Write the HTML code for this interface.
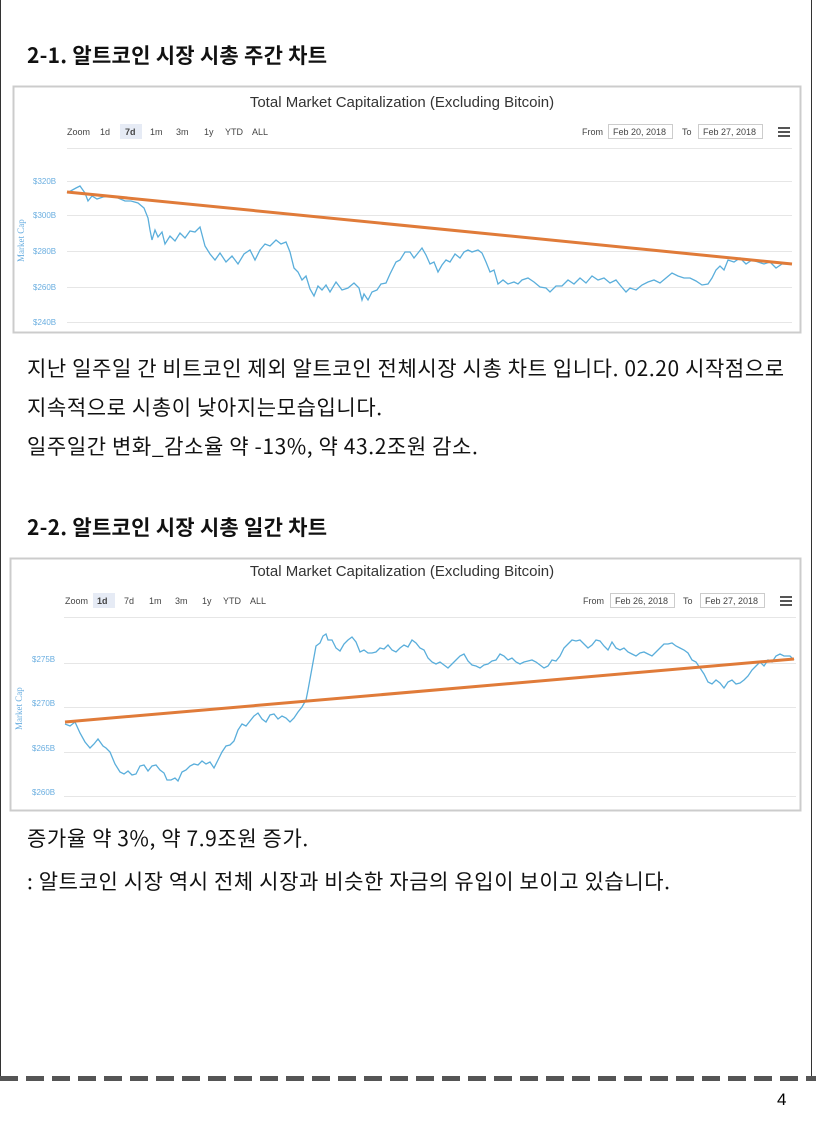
<!DOCTYPE html>
<html><head><meta charset="utf-8"><style>
body{margin:0;width:816px;height:1128px;position:relative;background:#fff;font-family:"Noto Sans CJK KR","Liberation Sans",sans-serif;overflow:hidden}
.h{position:absolute;left:27px;font-size:21px;font-weight:bold;color:#111;line-height:24px;white-space:nowrap;letter-spacing:0.25px}
.t{position:absolute;left:27px;font-size:21px;color:#111;line-height:24px;white-space:nowrap;letter-spacing:0.6px}
</style></head><body>
<div style="position:absolute;left:0;top:0;width:1px;height:1080px;background:#333"></div>
<div style="position:absolute;left:811px;top:0;width:1px;height:1080px;background:#333"></div>
<div style="position:absolute;left:0;top:1076px;width:816px;height:5px;background:repeating-linear-gradient(90deg,#555 0 18px,transparent 18px 26px)"></div>
<div style="position:absolute;left:777px;top:1090px;font-size:17px;font-family:'Liberation Sans',sans-serif">4</div>
<div class="h" style="top:43px">2-1. 알트코인 시장 시총 주간 차트</div>
<div class="t" style="top:356px">지난 일주일 간 비트코인 제외 알트코인 전체시장 시총 차트 입니다. 02.20 시작점으로</div>
<div class="t" style="top:395px">지속적으로 시총이 낮아지는모습입니다.</div>
<div class="t" style="top:434px">일주일간 변화_감소율 약 -13%, 약 43.2조원 감소.</div>
<div class="h" style="top:515px">2-2. 알트코인 시장 시총 일간 차트</div>
<div class="t" style="top:826px">증가율 약 3%, 약 7.9조원 증가.</div>
<div class="t" style="top:869px">: 알트코인 시장 역시 전체 시장과 비슷한 자금의 유입이 보이고 있습니다.</div>

<svg style="position:absolute;left:0;top:0" width="816" height="1128" font-family="Liberation Sans,sans-serif">
<rect x="13.5" y="86.5" width="787" height="246" fill="#fff" stroke="#ccc" stroke-width="2"/>
<text x="402" y="107" font-size="15" fill="#333" text-anchor="middle">Total Market Capitalization (Excluding Bitcoin)</text>
<g font-size="9" fill="#444"><text x="67" y="135">Zoom</text>
<rect x="120" y="124" width="22" height="15" fill="#e6ebf5"/>
<text x="100" y="135">1d</text><text x="125" y="135" font-weight="bold">7d</text><text x="150" y="135">1m</text><text x="176" y="135">3m</text><text x="204" y="135">1y</text><text x="225" y="135">YTD</text><text x="252" y="135">ALL</text>
<text x="582" y="135">From</text><rect x="608.5" y="124.5" width="64" height="14" fill="none" stroke="#ccc"/><text x="613" y="135">Feb 20, 2018</text>
<text x="682" y="135">To</text><rect x="698.5" y="124.5" width="64" height="14" fill="none" stroke="#ccc"/><text x="703" y="135">Feb 27, 2018</text></g>
<g stroke="#555" stroke-width="2"><line x1="778" y1="128" x2="790" y2="128"/><line x1="778" y1="132" x2="790" y2="132"/><line x1="778" y1="136" x2="790" y2="136"/></g>
<g stroke="#e6e6e6"><line x1="67" y1="148.5" x2="792" y2="148.5"/><line x1="67" y1="181.5" x2="792" y2="181.5"/><line x1="67" y1="215.5" x2="792" y2="215.5"/><line x1="67" y1="251.5" x2="792" y2="251.5"/><line x1="67" y1="287.5" x2="792" y2="287.5"/><line x1="67" y1="322.5" x2="792" y2="322.5"/></g>
<g font-size="8" fill="#6aaee0"><text x="33" y="184">$320B</text><text x="33" y="218">$300B</text><text x="33" y="254">$280B</text><text x="33" y="290">$260B</text><text x="33" y="325">$240B</text>
<text transform="translate(24,262) rotate(-90)" font-family="Liberation Serif,serif" font-size="9">Market Cap</text></g>
<polyline fill="none" stroke="#5aaedb" stroke-width="1.3" points="67,193 76,188 80,186 85,193 88,201 92,196 97,199 103,197 110,196 118,198 125,201 131,201 138,203 144,208 148,218 150,230 152,240 155,230 158,237 162,232 165,244 170,236 175,241 180,233 185,238 190,231 195,232 200,227 205,246 210,254 215,260 220,253 226,262 232,256 238,264 244,254 250,250 255,260 260,250 265,244 270,246 276,240 281,244 286,242 290,252 294,268 298,272 302,280 306,276 310,289 314,296 318,286 322,290 326,285 330,292 336,282 342,290 348,288 354,283 359,288 362,300 364,294 368,300 372,292 377,290 381,284 386,283 390,274 396,262 400,260 405,252 410,252 414,258 418,253 422,248 426,255 430,264 434,262 438,272 442,265 446,260 450,262 455,254 460,258 464,252 468,250 472,252 478,250 482,253 486,262 490,272 494,270 498,284 503,280 508,284 514,282 518,284 522,280 528,278 534,282 540,287 546,288 550,292 556,286 562,286 568,280 574,284 580,278 586,283 592,276 598,280 604,278 610,283 616,280 620,285 626,292 630,288 636,290 642,285 648,282 654,280 660,283 666,278 672,273 678,276 684,278 690,278 696,281 702,285 708,284 712,278 716,270 720,266 724,270 728,260 734,262 740,258 746,264 752,260 758,262 764,264 770,262 776,268 782,264 790,264"/>
<line x1="67" y1="192" x2="792" y2="264" stroke="#e07b39" stroke-width="3"/>

<rect x="10.5" y="558.5" width="790" height="252" fill="#fff" stroke="#ccc" stroke-width="2"/>
<text x="402" y="576" font-size="15" fill="#333" text-anchor="middle">Total Market Capitalization (Excluding Bitcoin)</text>
<g font-size="9" fill="#444"><text x="65" y="604">Zoom</text>
<rect x="93" y="593" width="22" height="15" fill="#e6ebf5"/>
<text x="97" y="604" font-weight="bold">1d</text><text x="124" y="604">7d</text><text x="149" y="604">1m</text><text x="175" y="604">3m</text><text x="202" y="604">1y</text><text x="223" y="604">YTD</text><text x="250" y="604">ALL</text>
<text x="583" y="604">From</text><rect x="610.5" y="593.5" width="64" height="14" fill="none" stroke="#ccc"/><text x="615" y="604">Feb 26, 2018</text>
<text x="683" y="604">To</text><rect x="700.5" y="593.5" width="64" height="14" fill="none" stroke="#ccc"/><text x="705" y="604">Feb 27, 2018</text></g>
<g stroke="#555" stroke-width="2"><line x1="780" y1="597" x2="792" y2="597"/><line x1="780" y1="601" x2="792" y2="601"/><line x1="780" y1="605" x2="792" y2="605"/></g>
<g stroke="#e6e6e6"><line x1="64" y1="617.5" x2="796" y2="617.5"/><line x1="64" y1="663.5" x2="796" y2="663.5"/><line x1="64" y1="707.5" x2="796" y2="707.5"/><line x1="64" y1="752.5" x2="796" y2="752.5"/><line x1="64" y1="796.5" x2="796" y2="796.5"/></g>
<g font-size="8" fill="#6aaee0"><text x="32" y="662">$275B</text><text x="32" y="706">$270B</text><text x="32" y="751">$265B</text><text x="32" y="795">$260B</text>
<text transform="translate(22,730) rotate(-90)" font-family="Liberation Serif,serif" font-size="9">Market Cap</text></g>
<polyline fill="none" stroke="#5aaedb" stroke-width="1.3" points="65,724 70,726 75,722 80,733 85,742 90,748 94,744 98,739 103,746 106,748 110,752 115,764 120,772 124,774 128,771 132,775 136,774 140,766 144,765 148,771 152,766 156,765 160,770 164,773 167,780 171,780 175,778 178,781 182,772 186,770 190,766 194,764 198,765 202,761 206,764 210,762 214,768 218,760 222,752 226,746 230,745 234,741 238,730 242,724 246,726 250,721 254,716 258,713 262,719 266,722 270,715 274,714 278,719 282,716 286,718 290,722 294,718 298,712 302,707 306,700 308,690 312,668 316,646 320,643 323,636 326,634 328,640 332,640 336,648 340,651 344,644 348,640 352,637 356,642 360,652 364,650 368,653 372,653 376,652 380,648 384,649 388,645 392,650 396,652 400,648 404,645 408,647 412,640 416,643 420,648 424,650 428,658 432,662 436,664 440,662 444,665 448,668 452,664 456,660 460,656 464,654 468,661 472,665 476,666 480,668 484,665 488,664 492,661 496,660 500,654 504,656 508,660 512,658 516,662 520,664 524,662 528,661 532,660 536,662 540,665 544,668 548,666 552,660 556,661 560,656 564,648 568,644 572,640 576,641 580,640 584,644 588,648 592,645 596,640 600,641 604,646 608,650 612,642 616,648 620,650 624,648 628,652 632,654 636,656 640,653 644,652 648,654 652,656 656,652 660,648 664,644 668,644 672,643 676,646 680,648 684,650 688,653 692,660 696,662 700,668 704,674 708,682 712,684 716,680 720,683 724,688 728,682 732,680 736,684 740,683 744,680 748,676 752,670 756,666 760,662 764,666 768,660 772,662 776,656 780,654 784,656 790,656 794,660"/>
<line x1="65" y1="722" x2="794" y2="659" stroke="#e07b39" stroke-width="3"/>
</svg>
</body></html>
